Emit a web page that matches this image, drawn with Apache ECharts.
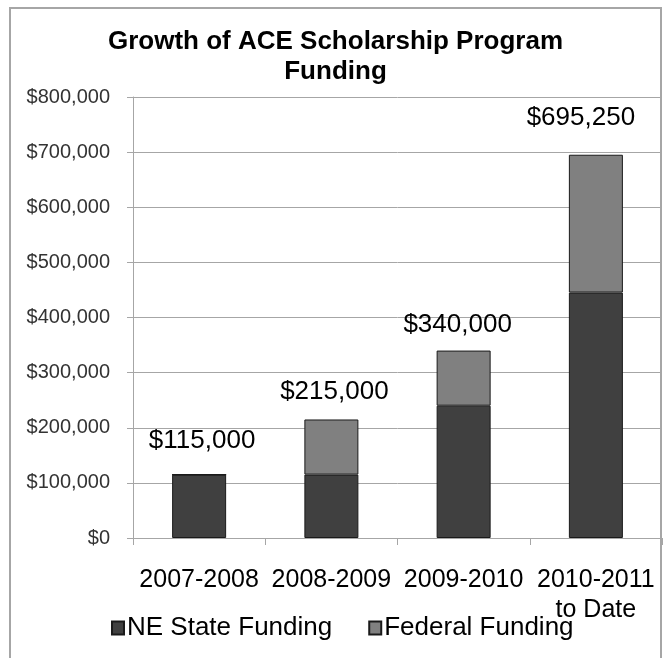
<!DOCTYPE html>
<html>
<head>
<meta charset="utf-8">
<script src="https://cdn.jsdelivr.net/npm/echarts@6/dist/echarts.min.js"></script>
<style>
html,body{margin:0;padding:0;background:#fff;}
#chart{width:663px;height:658px;}
</style>
</head>
<body>
<div id="chart"></div>
<script>
// ---- data ----
var categories = ['2007-2008', '2008-2009', '2009-2010', '2010-2011\nto Date'];
var stateFunding = [115000, 115000, 240000, 445250];
var federalFunding = [0, 100000, 100000, 250000];
var seriesNames = ['NE State Funding', 'Federal Funding'];
var titleLines = ['Growth of ACE Scholarship Program', 'Funding'];

// ---- style constants ----
var labelOffsets = [[3, -20], [3, -15], [-6, -13], [-15, -24]];
var FONT = '"Liberation Sans", Arial, sans-serif';

var totals = stateFunding.map(function (v, i) { return v + federalFunding[i]; });
function money(v) { return '$' + Number(v).toLocaleString('en-US'); }

var chart = echarts.init(document.getElementById('chart'), null, { renderer: 'canvas' });
chart.setOption({
  animation: false,
  backgroundColor: '#ffffff',
  textStyle: { fontFamily: FONT },
  graphic: [
    { type: 'rect', shape: { x: 10, y: 8, width: 651, height: 700 },
      style: { fill: 'none', stroke: '#a6a6a6', lineWidth: 2 }, z: -1 },
    { type: 'text', x: 335.5, y: 27,
      style: { text: titleLines.join('\n'), fill: '#000', font: 'bold 26px ' + FONT,
               textAlign: 'center', textVerticalAlign: 'top', lineHeight: 30 } }
  ],
  legend: {
    left: 106, top: 610,
    itemWidth: 12, itemHeight: 13, itemGap: 36,
    icon: 'rect',
    textStyle: { fontSize: 26, color: '#000', fontFamily: FONT, padding: [0, 0, 0, -2] },
    data: seriesNames
  },
  grid: { left: 133, right: 1, top: 97, bottom: 120, containLabel: false },
  xAxis: {
    type: 'category',
    data: categories,
    axisLine: { lineStyle: { color: '#a6a6a6', width: 1 } },
    axisTick: { show: true, length: 7, interval: 0, lineStyle: { color: '#a6a6a6' } },
    axisLabel: { interval: 0, fontSize: 25, color: '#000', margin: 27, lineHeight: 30, fontFamily: FONT }
  },
  yAxis: {
    type: 'value', min: 0, max: 800000, interval: 100000,
    axisLine: { show: true, lineStyle: { color: '#a6a6a6', width: 1 } },
    axisTick: { show: true, length: 6, lineStyle: { color: '#a6a6a6' } },
    splitLine: { lineStyle: { color: '#a6a6a6', width: 1 } },
    axisLabel: { fontSize: 20, color: '#333', margin: 23, fontFamily: FONT, formatter: money }
  },
  series: [
    {
      name: seriesNames[0], type: 'bar', stack: 'total', barWidth: 54,
      itemStyle: { color: '#404040', borderColor: '#1a1a1a', borderWidth: 1 },
      data: stateFunding
    },
    {
      name: seriesNames[1], type: 'bar', stack: 'total', barWidth: 54,
      itemStyle: { color: '#808080', borderColor: '#1a1a1a', borderWidth: 1 },
      label: {
        show: true, position: 'top', distance: 0, fontSize: 26, color: '#000', fontFamily: FONT,
        formatter: function (p) { return money(totals[p.dataIndex]); }
      },
      data: federalFunding.map(function (v, i) {
        return { value: v, label: { offset: labelOffsets[i] } };
      })
    }
  ]
});
</script>
</body>
</html>
